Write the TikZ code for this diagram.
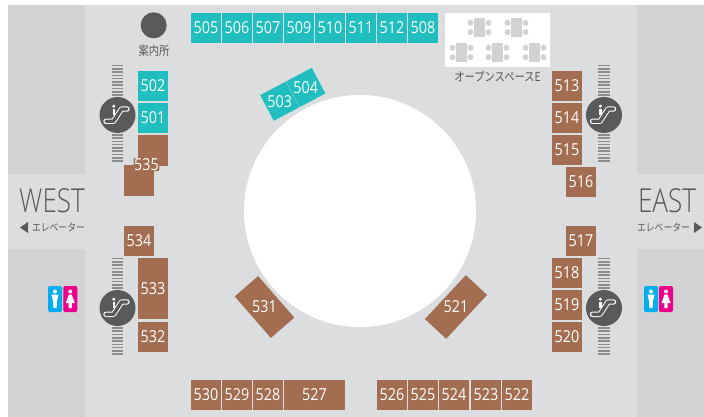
\documentclass[tikz,border=0pt]{standalone}
\usepackage{fontspec}
\setmainfont{Open Sans}[FakeStretch=0.87]
\newfontfamily\wingfont{Open Sans Light}[FakeStretch=0.79]
\newfontfamily\jpnarrow{Noto Sans CJK JP}[FakeStretch=0.83]
\definecolor{floorgray}{HTML}{DCDDDF}
\definecolor{panelgray}{HTML}{D1D2D4}
\definecolor{darkgray}{HTML}{58595B}
\definecolor{stepgray}{HTML}{8A8C8E}
\definecolor{shopbrown}{HTML}{A26D50}
\definecolor{shopteal}{HTML}{20BEBE}
\definecolor{manblue}{HTML}{00AEEF}
\definecolor{womanpink}{HTML}{EC008C}

\begin{document}
\begin{tikzpicture}[x=1pt,y=-1pt]
	\tikzstyle{tnode} = [fill=shopteal,text=white,inner sep=0pt,minimum size=30pt,font=\fontsize{16.5}{16.5}\selectfont]
	\tikzstyle{bnode} = [fill=shopbrown,text=white,inner sep=0pt,minimum size=30pt,font=\fontsize{16.5}{16.5}\selectfont]
	\tikzstyle{lnode} = [text=white,inner sep=0pt,font=\fontsize{16.5}{16.5}\selectfont]
	\tikzstyle{panel} = [fill=panelgray,inner sep=0pt]
	\tikzstyle{jnode} = [text=darkgray,inner sep=0pt,font=\jpnarrow\fontsize{12.4}{13}\selectfont]
	\tikzstyle{wnode} = [text=darkgray,inner sep=0pt,font=\wingfont\fontsize{33}{33}\selectfont]
	\tikzstyle{enode} = [text=darkgray,inner sep=0pt,font=\jpnarrow\fontsize{10.6}{11}\selectfont]
	\tikzstyle{tbl} = [fill=panelgray,inner sep=0pt,minimum width=11pt,minimum height=19pt]
	\tikzstyle{wc} = [inner sep=0pt,rounded corners=2pt,minimum width=14pt,minimum height=26pt]

	\useasboundingbox (0,0) rectangle (704,417);
	\fill[floorgray] (8,5) rectangle (704,417);

	% wall panels
	\fill[panel] (8,5) rectangle (85,174);
	\fill[panel] (8,249) rectangle (85,417);
	\fill[panel] (637,5) rectangle (704,174);
	\fill[panel] (637,249) rectangle (704,417);

	% top row
	\node[tnode] (s505) at (206,28) {505};
	\node[tnode] (s506) at (237,28) {506};
	\node[tnode] (s507) at (268,28) {507};
	\node[tnode] (s509) at (299,28) {509};
	\node[tnode] (s510) at (330,28) {510};
	\node[tnode] (s511) at (361,28) {511};
	\node[tnode] (s512) at (392,28) {512};
	\node[tnode] (s508) at (423,28) {508};

	% west side
	\node[tnode] (s502) at (153,86) {502};
	\node[tnode] (s501) at (153,118) {501};
	\node[bnode,minimum height=31pt] (s535a) at (153,150.5) {};
	\node[bnode,minimum height=31pt] (s535b) at (139,180.5) {};
	\node[lnode,fill=shopbrown,rounded corners=1pt,inner sep=0.5pt] (l535) at (146.5,164.5) {535};
	\node[bnode] (s534) at (139,241) {534};
	\node[bnode,minimum height=61pt] (s533) at (153,288.5) {533};
	\node[bnode] (s532) at (153,337) {532};

	% bottom row
	\node[bnode] (s530) at (206,395) {530};
	\node[bnode] (s529) at (237,395) {529};
	\node[bnode] (s528) at (268,395) {528};
	\node[bnode,minimum width=61pt] (s527) at (314.5,395) {527};
	\node[bnode] (s526) at (392,395) {526};
	\node[bnode] (s525) at (423,395) {525};
	\node[bnode] (s524) at (454,395) {524};
	\node[bnode] (s523) at (486,395) {523};
	\node[bnode] (s522) at (517,395) {522};

	% east side
	\node[bnode] (s513) at (567,86) {513};
	\node[bnode] (s514) at (567,118) {514};
	\node[bnode] (s515) at (567,150) {515};
	\node[bnode] (s516) at (581,182) {516};
	\node[bnode] (s517) at (581,241) {517};
	\node[bnode] (s518) at (567,273) {518};
	\node[bnode] (s519) at (567,305) {519};
	\node[bnode] (s520) at (567,337) {520};

	% tilted shops, their numbers stay upright
	\node[tnode,rotate=28,minimum size=29pt] (s503) at (279.8,101.2) {};
	\node[tnode,rotate=28,minimum size=29pt] (s504) at (305.8,87.4) {};
	\node[bnode,rotate=-49,minimum width=55pt,minimum height=31pt] (s531) at (264.5,307) {};
	\node[bnode,rotate=47,minimum width=60pt,minimum height=29pt] (s521) at (456,307) {};
	\node[lnode] (l503) at (s503) {503};
	\node[lnode] (l504) at (s504) {504};
	\node[lnode] (l531) at (s531) {531};
	\node[lnode] (l521) at (s521) {521};

	% atrium
	\node[circle,fill=white,inner sep=0pt,minimum size=232pt] (atrium) at (360,211) {};

	% information
	\node[circle,fill=darkgray,inner sep=0pt,minimum size=26pt] (info) at (153.7,25.3) {};
	\node[jnode] (infotext) at (154,51) {案内所};

	% open space
	\node[fill=white,inner sep=0pt,minimum width=105pt,minimum height=54pt] (open) at (497.5,40) {};
	\foreach \n/\tx/\ty in {1/479.5/27.5,2/516.5/27.5,3/461.5/52.5,4/497.5/52.5,5/534.5/52.5} {
		\node[tbl] (tbl\n) at (\tx,\ty) {};
		\fill[panelgray] (\tx-9,\ty-4.7) circle (3);
		\fill[panelgray] (\tx+9,\ty-4.7) circle (3);
		\fill[panelgray] (\tx-9,\ty+4.7) circle (3);
		\fill[panelgray] (\tx+9,\ty+4.7) circle (3);
	}
	\node[jnode] (opentext) at (497.5,76.7) {オープンスペースE};

	% escalators
	\foreach \n/\ex/\ey in {1/117.5/115,2/117.5/308,3/604/115,4/604/308} {
		\begin{scope}[shift={(\ex,\ey)}]
			\foreach \j in {0,...,29} {
				\draw[stepgray,line width=1.6pt] (-5.7,-49.5+\j*3.3) -- (5.7,-49.5+\j*3.3);
			}
			\node[circle,fill=darkgray,inner sep=0pt,minimum size=36pt] (esc\n) at (0,0) {};
			\draw[white,line width=5.4pt,line cap=round,line join=round] (-11.5,6.3) -- (-4,6.3) -- (4,-6) -- (9.5,-6);
			\draw[darkgray,line width=3.4pt,line cap=round,line join=round] (-11.5,6.3) -- (-4,6.3) -- (4,-6) -- (9.5,-6);
			\fill[white] (-3.7,-8.8) circle (1.7);
			\draw[white,line width=2.4pt] (-3.7,-6.3) -- (-3.7,0);
		\end{scope}
	}

	% wings
	\node[wnode] (west) at (52,200.5) {WEST};
	\node[wnode] (east) at (667,200.5) {EAST};
	\node[enode] (wlift) at (58.5,227) {エレベーター};
	\node[enode] (elift) at (663.5,227) {エレベーター};
	\fill[darkgray] (20,227.5) -- (28,222) -- (28,233) -- cycle;
	\fill[darkgray] (702,227.5) -- (694,222) -- (694,233) -- cycle;

	% toilets
	\foreach \n/\mx/\wx in {1/55/70.3,2/651/666} {
		\node[wc,fill=manblue] (man\n) at (\mx,299) {};
		\node[wc,fill=womanpink] (woman\n) at (\wx,299) {};
		\fill[white] (\mx,291.5) circle (2);
		\fill[white] (\wx,291.5) circle (2);
		\fill[white] (\mx-3.5,294.5) -- (\mx+3.5,294.5) -- (\mx+2,301) -- (\mx+1.6,308) -- (\mx-1.6,308) -- (\mx-2,301) -- cycle;
		\fill[white] (\wx-1.5,294.5) -- (\wx+1.5,294.5) -- (\wx+4.5,303) -- (\wx+1.6,303) -- (\wx+1.6,308) -- (\wx-1.6,308) -- (\wx-1.6,303) -- (\wx-4.5,303) -- cycle;
	}
\end{tikzpicture}
\end{document}
